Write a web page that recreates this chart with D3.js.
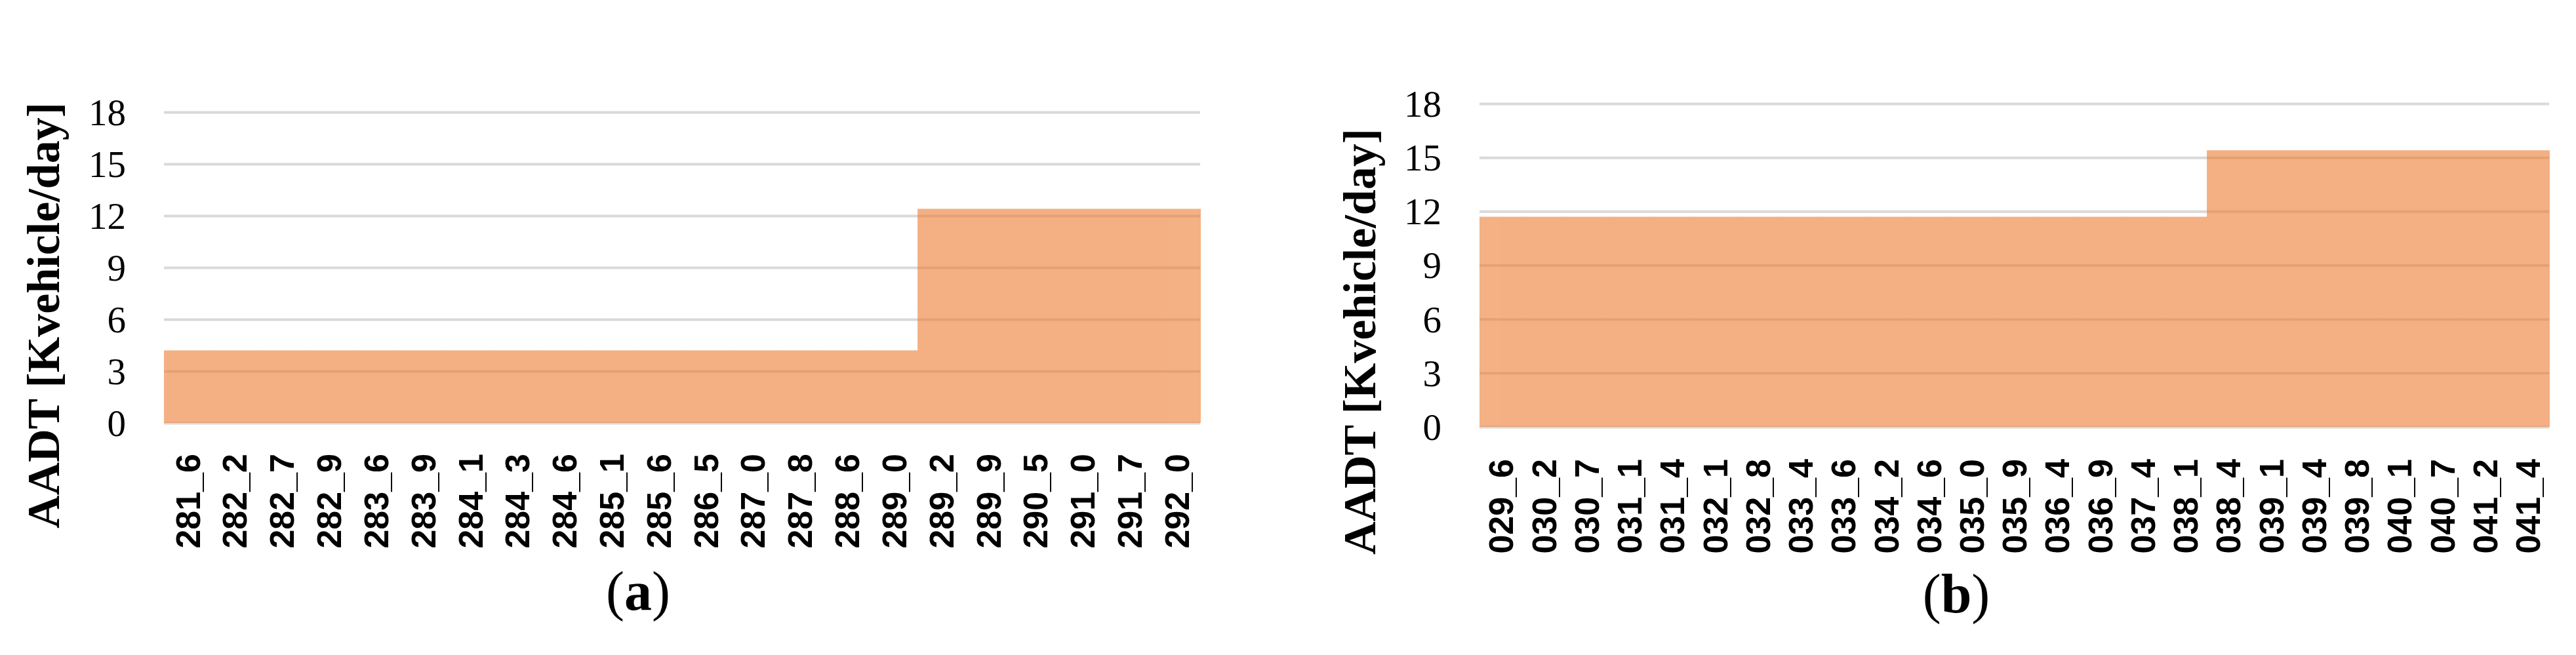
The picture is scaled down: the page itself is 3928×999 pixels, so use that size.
<!DOCTYPE html>
<html><head><meta charset="utf-8">
<script src="https://cdn.jsdelivr.net/npm/d3@7"></script>
<style>body{margin:0;background:#fff}svg{display:block}</style>
</head><body>
<svg id="c" width="3928" height="999"></svg>
<script>
const categoriesA = ["281_6","282_2","282_7","282_9","283_6","283_9","284_1","284_3","284_6","285_1","285_6","286_5","287_0","287_8","288_6","289_0","289_2","289_9","290_5","291_0","291_7","292_0"];
const valuesA = [4.2,4.2,4.2,4.2,4.2,4.2,4.2,4.2,4.2,4.2,4.2,4.2,4.2,4.2,4.2,4.2,12.4,12.4,12.4,12.4,12.4,12.4];
const categoriesB = ["029_6","030_2","030_7","031_1","031_4","032_1","032_8","033_4","033_6","034_2","034_6","035_0","035_9","036_4","036_9","037_4","038_1","038_4","039_1","039_4","039_8","040_1","040_7","041_2","041_4"];
const valuesB = [11.7,11.7,11.7,11.7,11.7,11.7,11.7,11.7,11.7,11.7,11.7,11.7,11.7,11.7,11.7,11.7,11.7,15.4,15.4,15.4,15.4,15.4,15.4,15.4,15.4];
const yTicks = [0,3,6,9,12,15,18];
const yTitle = "AADT [Kvehicle/day]";
const panelLetters = ["a","b"];

const svg = d3.select("#c");
const serif = "'Palatino Linotype','Book Antiqua',Palatino,'Liberation Serif',serif";
const sans = "Arial,'Liberation Sans',sans-serif";

function panel(cats, vals, letter, L) {
  const x = d3.scaleBand().domain(cats).range([L.x0, L.x1]).padding(0);
  const y = d3.scaleLinear().domain([0, 18]).range([L.y0, L.y18]);
  const g = svg.append("g");

  // gridlines
  g.append("g")
    .attr("transform", `translate(${L.x0},0)`)
    .call(d3.axisLeft(y).tickValues(yTicks).tickSize(-(L.x1 - L.x0)).tickFormat(""))
    .call(s => s.select(".domain").remove())
    .call(s => s.selectAll("line").attr("stroke", "#d9d9d9").attr("stroke-width", 4));

  // bars (column chart, zero gap); group opacity so adjoining bars merge seamlessly
  g.append("g").attr("opacity", 0.6)
    .selectAll("rect").data(cats).join("rect")
    .attr("x", d => x(d))
    .attr("width", x.bandwidth() + 1)
    .attr("y", (d, i) => y(vals[i]))
    .attr("height", (d, i) => y(0) - y(vals[i]))
    .attr("fill", "#ED7D31");

  // y tick labels
  g.append("g")
    .attr("transform", `translate(${L.x0},0)`)
    .call(d3.axisLeft(y).tickValues(yTicks).tickSize(0).tickPadding(L.x0 - L.tickRight))
    .call(s => s.select(".domain").remove())
    .call(s => s.selectAll("text")
      .attr("font-family", serif).attr("font-size", 57).attr("fill", "#000").attr("dy", "0.34em"));

  // x tick labels
  g.append("g")
    .attr("transform", `translate(0,${L.y0})`)
    .call(d3.axisBottom(x).tickSize(0))
    .call(s => s.select(".domain").remove())
    .call(s => s.selectAll("text")
      .attr("transform", "rotate(-90)")
      .attr("x", -(L.labTop - L.y0)).attr("y", 0).attr("dy", "0.36em")
      .attr("text-anchor", "end")
      .attr("font-family", sans).attr("font-weight", "bold").attr("font-size", 52).attr("fill", "#000"));

  // y title
  g.append("text")
    .attr("transform", `translate(${L.titleX},${L.titleY}) rotate(-90)`)
    .attr("text-anchor", "middle")
    .attr("font-family", serif).attr("font-weight", "bold").attr("font-size", 70)
    .attr("fill", "#000")
    .text(yTitle);

  // caption
  const cap = g.append("text")
    .attr("x", L.capX).attr("y", L.capY)
    .attr("text-anchor", "middle")
    .attr("font-family", serif).attr("font-size", 84).attr("fill", "#000");
  cap.append("tspan").text("(");
  cap.append("tspan").attr("font-weight", "bold").text(letter);
  cap.append("tspan").text(")");
}

panel(categoriesA, valuesA, panelLetters[0],
  {x0: 250, x1: 1830, y0: 645, y18: 171, tickRight: 192, labTop: 692, titleX: 90, titleY: 481, capX: 973, capY: 930});
panel(categoriesB, valuesB, panelLetters[1],
  {x0: 2256, x1: 3887, y0: 651, y18: 158, tickRight: 2198, labTop: 700, titleX: 2097, titleY: 521, capX: 2983, capY: 934});
</script>
</body></html>
